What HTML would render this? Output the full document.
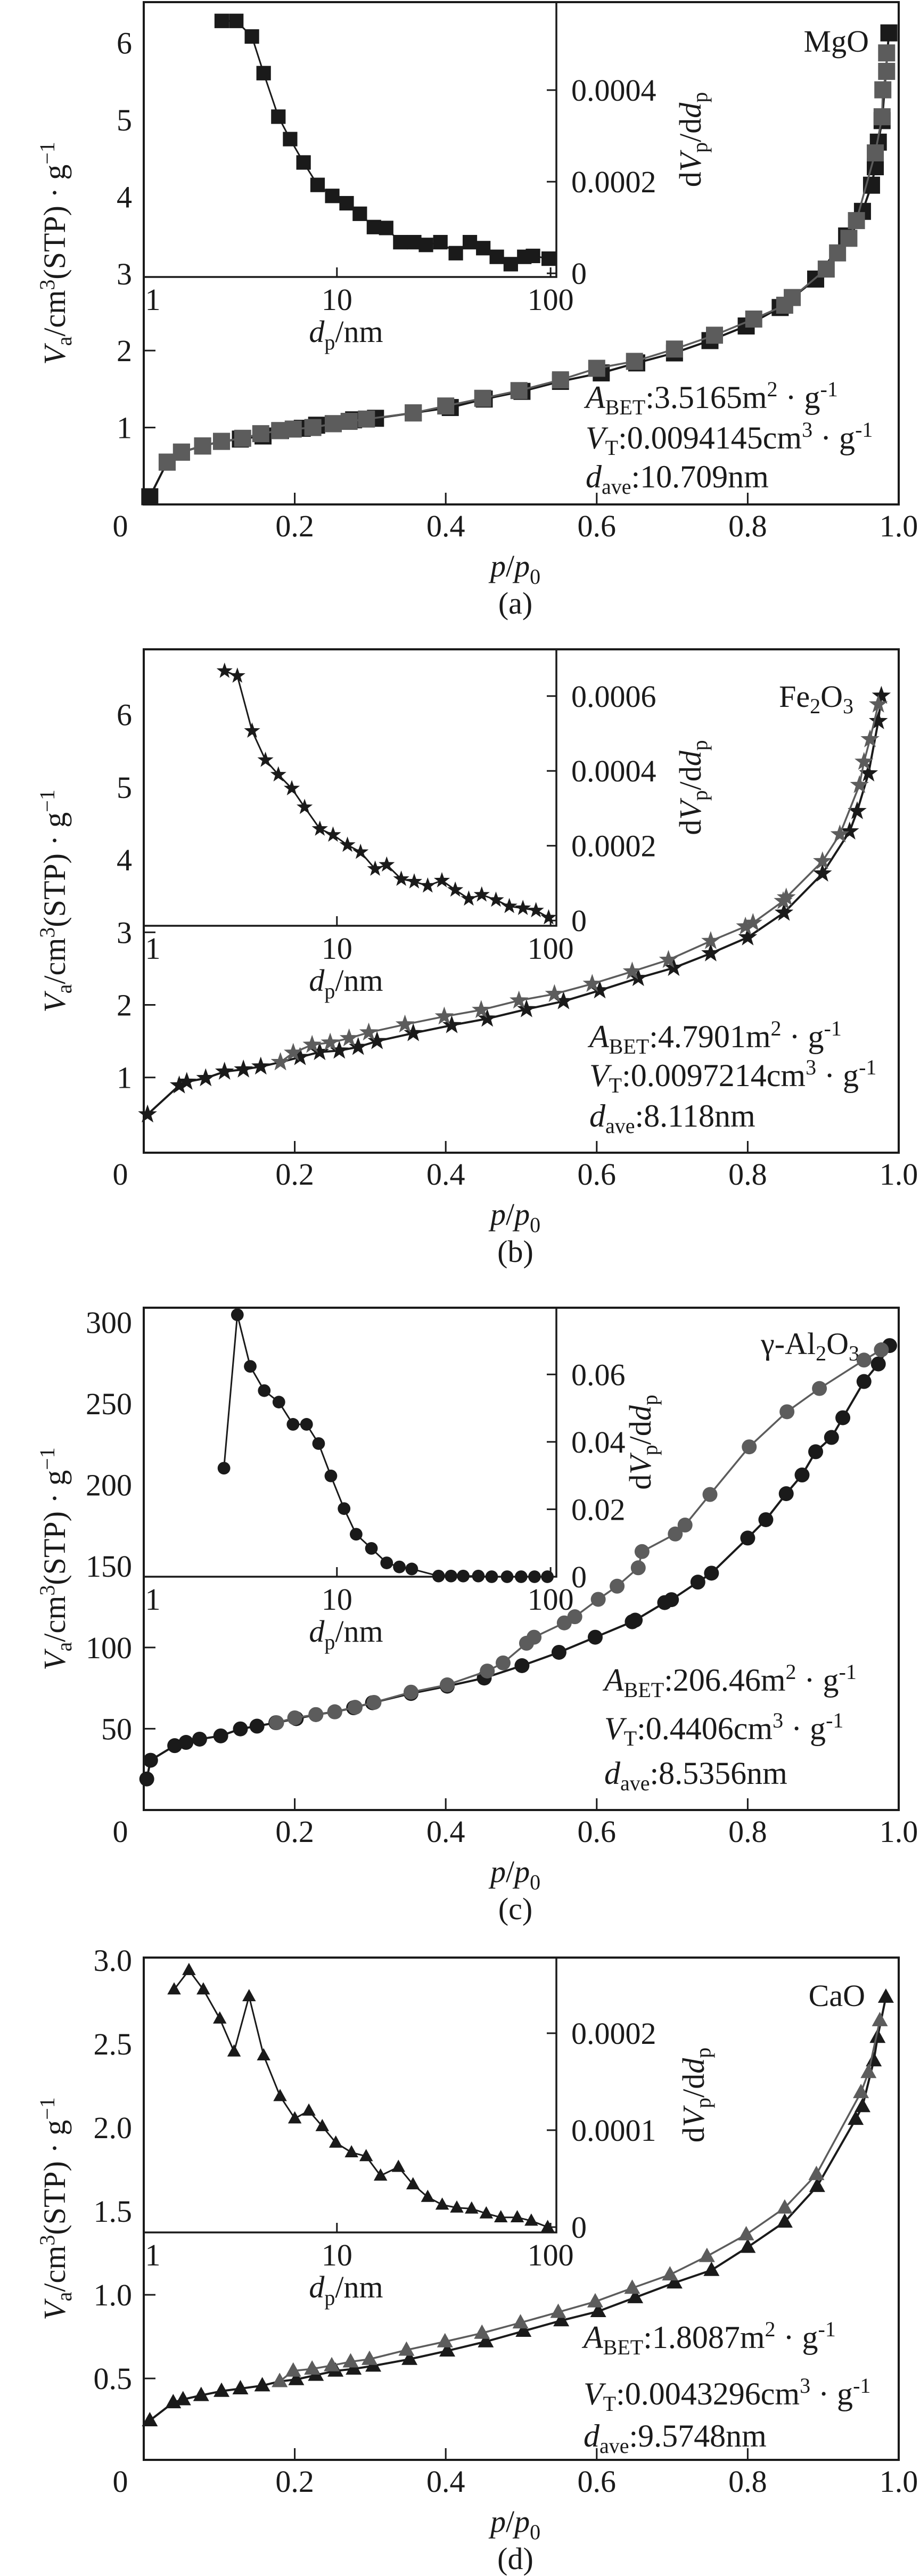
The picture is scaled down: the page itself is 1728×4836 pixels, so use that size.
<!DOCTYPE html>
<html><head><meta charset="utf-8"><style>
html,body{margin:0;padding:0;background:#fff;}
svg{display:block;}
text{font-family:"Liberation Serif",serif;fill:#1a1a1a;}
</style></head><body>
<svg id="chart" xmlns="http://www.w3.org/2000/svg" width="1728" height="4836" viewBox="0 0 1728 4836"></svg>
<script>
// ---- data: panel (a) MgO ----
const aAdsP=[0.008,0.031,0.05,0.078,0.103,0.128,0.158,0.181,0.21,0.229,0.251,0.278,0.307,0.357,0.406,0.451,0.501,0.552,0.606,0.653,0.703,0.75,0.798,0.843,0.89,0.931,0.952,0.964,0.969,0.973,0.978,0.987];
const aAdsV=[0.1,0.55,0.68,0.76,0.82,0.85,0.89,0.96,0.99,1.03,1.05,1.1,1.12,1.19,1.26,1.37,1.47,1.6,1.71,1.84,1.97,2.13,2.32,2.56,2.93,3.49,3.81,4.15,4.39,4.71,4.99,6.13];
const aDesP=[0.984,0.984,0.979,0.978,0.969,0.944,0.934,0.919,0.904,0.859,0.849,0.808,0.756,0.703,0.65,0.6,0.552,0.497,0.449,0.4,0.357,0.295,0.272,0.251,0.224,0.198,0.18,0.155,0.131,0.103,0.078,0.05,0.031];
const aDesV=[5.87,5.63,5.39,5.04,4.57,3.69,3.46,3.27,3.06,2.69,2.59,2.41,2.2,2.02,1.86,1.77,1.62,1.48,1.38,1.28,1.19,1.11,1.08,1.05,1.0,0.98,0.96,0.92,0.86,0.82,0.76,0.68,0.55];
const aPsdD=[2.89,3.38,4.0,4.54,5.32,6.04,6.98,8.12,9.51,11.1,12.8,14.9,17.0,19.8,23.0,26.1,30.5,36.0,41.9,48.4,56.0,65.1,75.3,82.7,98];
const aPsdV=[5.51e-4,5.51e-4,5.17e-4,4.37e-4,3.42e-4,2.93e-4,2.42e-4,1.93e-4,1.69e-4,1.53e-4,1.30e-4,1.01e-4,0.99e-4,0.68e-4,0.68e-4,0.62e-4,0.68e-4,0.44e-4,0.68e-4,0.55e-4,0.36e-4,0.20e-4,0.36e-4,0.38e-4,0.32e-4];
const aYTicks=[1,2,3,4,5,6];
const aYTickLabels=['1','2','3','4','5','6'];
const aInTicks=[0,2e-4,4e-4];
const aInTickLabels=['0','0.0002','0.0004'];
// ---- data: panel (b) Fe2O3 ----
const bAdsP=[0.005,0.047,0.057,0.082,0.107,0.132,0.155,0.181,0.207,0.233,0.259,0.284,0.309,0.357,0.408,0.455,0.507,0.556,0.604,0.655,0.702,0.751,0.8,0.848,0.899,0.935,0.945,0.96,0.973,0.977];
const bAdsV=[0.49,0.89,0.94,0.99,1.08,1.11,1.15,1.21,1.28,1.35,1.37,1.42,1.5,1.61,1.72,1.81,1.94,2.05,2.2,2.37,2.51,2.71,2.93,3.27,3.81,4.39,4.67,5.19,5.91,6.26];
const bDesP=[0.973,0.962,0.954,0.948,0.922,0.899,0.851,0.847,0.807,0.797,0.751,0.695,0.647,0.594,0.544,0.497,0.447,0.398,0.346,0.298,0.272,0.247,0.223,0.198,0.181];
const bDesV=[6.14,5.66,5.35,5.03,4.35,3.98,3.48,3.43,3.13,3.08,2.88,2.62,2.46,2.29,2.15,2.06,1.93,1.84,1.73,1.62,1.54,1.48,1.45,1.34,1.21];
const bPsdD=[2.98,3.42,4.01,4.63,5.32,6.15,7.06,8.32,9.59,11.2,12.9,15.1,17.1,20.0,23.0,26.6,31.0,35.8,41.4,47.6,55.5,64.1,74.2,85.4,97.9];
const bPsdV=[6.67e-4,6.54e-4,5.07e-4,4.29e-4,3.9e-4,3.53e-4,3.03e-4,2.45e-4,2.29e-4,2.02e-4,1.83e-4,1.38e-4,1.49e-4,1.11e-4,1.04e-4,0.93e-4,1.07e-4,0.82e-4,0.58e-4,0.69e-4,0.55e-4,0.38e-4,0.33e-4,0.27e-4,0.08e-4];
const bYTicks=[1,2,3,4,5,6];
const bYTickLabels=['1','2','3','4','5','6'];
const bInTicks=[0,2e-4,4e-4,6e-4];
const bInTickLabels=['0','0.0002','0.0004','0.0006'];
// ---- data: panel (c) gamma-Al2O3 ----
const cAdsP=[0.004,0.009,0.041,0.056,0.074,0.102,0.128,0.15,0.175,0.202,0.228,0.253,0.278,0.303,0.354,0.402,0.451,0.501,0.55,0.598,0.647,0.651,0.69,0.699,0.734,0.752,0.8,0.824,0.851,0.872,0.89,0.911,0.926,0.954,0.973,0.988];
const cAdsV=[19.1,30.6,39.6,41.6,43.6,45.6,49.9,51.6,53.7,56.2,58.7,60.4,62.9,66.0,71.7,76.2,81.2,88.8,97.0,106.3,115.8,116.8,127.6,129.4,140.2,145.7,167.3,178.6,194.6,206.1,220.4,229.2,241.3,263.6,274.4,285.7];
const cDesP=[0.977,0.954,0.895,0.852,0.802,0.75,0.717,0.704,0.66,0.655,0.627,0.602,0.571,0.557,0.517,0.507,0.476,0.455,0.402,0.354,0.305,0.28,0.253,0.228,0.2,0.176];
const cDesV=[283.1,276.8,259.3,245,223.4,194.1,175.3,169.8,159,149,137.7,129.6,118.9,115.1,106.3,102.6,90.5,85.5,77,72.5,66.2,63.2,60.4,58.7,56.7,53.7];
const cPsdD=[2.96,3.42,3.93,4.57,5.35,6.23,7.21,8.21,9.37,10.8,12.3,14.5,17.1,19.6,22.4,29.9,34.2,39.0,45.9,53.0,62.6,72.8,84.1,96.6];
const cPsdV=[0.0322,0.0777,0.0624,0.0552,0.0518,0.0452,0.0452,0.0395,0.0299,0.0202,0.0126,0.0084,0.0041,0.0029,0.0023,0.0002,0.0002,0.0002,0.0002,0,0,0,0,0];
const cYTicks=[50,100,150,200,250,300];
const cYTickLabels=['50','100','150','200','250','300'];
const cInTicks=[0,0.02,0.04,0.06];
const cInTickLabels=['0','0.02','0.04','0.06'];
// ---- data: panel (d) CaO ----
const dAdsP=[0.008,0.039,0.052,0.076,0.103,0.128,0.157,0.18,0.202,0.228,0.254,0.278,0.304,0.352,0.402,0.453,0.503,0.553,0.602,0.651,0.703,0.752,0.8,0.849,0.892,0.943,0.952,0.967,0.972,0.983];
const dAdsV=[0.248,0.356,0.374,0.399,0.424,0.439,0.457,0.482,0.494,0.52,0.545,0.557,0.575,0.615,0.665,0.72,0.783,0.846,0.901,0.984,1.072,1.147,1.285,1.436,1.649,2.05,2.126,2.4,2.54,2.78];
const dDesP=[0.975,0.96,0.95,0.891,0.849,0.798,0.746,0.697,0.647,0.598,0.549,0.499,0.448,0.399,0.348,0.299,0.274,0.249,0.223,0.198,0.18];
const dDesV=[2.64,2.33,2.21,1.72,1.52,1.36,1.23,1.12,1.04,0.959,0.896,0.833,0.771,0.72,0.67,0.615,0.6,0.577,0.557,0.545,0.482];
const dPsdD=[1.73,2.03,2.37,2.83,3.30,3.88,4.54,5.42,6.35,7.39,8.54,9.88,11.7,13.7,16.0,19.4,22.7,26.6,31.1,36.4,42.7,50.0,58.5,69.8,81.2,96.9];
const dPsdV=[2.45e-4,2.65e-4,2.45e-4,2.15e-4,1.81e-4,2.38e-4,1.77e-4,1.35e-4,1.12e-4,1.2e-4,1.04e-4,0.87e-4,0.77e-4,0.73e-4,0.53e-4,0.62e-4,0.44e-4,0.31e-4,0.23e-4,0.2e-4,0.19e-4,0.14e-4,0.1e-4,0.1e-4,0.065e-4,0];
const dYTicks=[0.5,1.0,1.5,2.0,2.5,3.0];
const dYTickLabels=['0.5','1.0','1.5','2.0','2.5','3.0'];
const dInTicks=[0,1e-4,2e-4];
const dInTickLabels=['0','0.0001','0.0002'];
const xTicks=[0,0.2,0.4,0.6,0.8,1.0];
const xTickLabels=['0','0.2','0.4','0.6','0.8','1.0'];
const inXTicks=[1,10,100];
const inXTickLabels=['1','10','100'];

const NS='http://www.w3.org/2000/svg';
const svg=document.getElementById('chart');
function mk(tag,attrs,parent){const e=document.createElementNS(NS,tag);for(const k in attrs)e.setAttribute(k,attrs[k]);(parent||svg).appendChild(e);return e;}

const L=270,R=1688,IR=1045,LOG0=0.096,LOG1=2.027;
const BLACK='#1a1a1a',GRAY='#5c5c5c';

function marker(g,type,x,y,col,s){
  let e;
  if(type==='square'){e=mk('rect',{x:x-s/2,y:y-s/2,width:s,height:s,fill:col},g);}
  else if(type==='circle'){e=mk('circle',{cx:x,cy:y,r:s/2,fill:col},g);}
  else if(type==='triangle'){const h=s*0.9;e=mk('polygon',{points:`${x},${y-h*0.6} ${x-s/2},${y+h*0.4} ${x+s/2},${y+h*0.4}`,fill:col},g);}
  else {const pts=[];for(let i=0;i<10;i++){const r=i%2?s*0.22:s*0.55;const a=-Math.PI/2+i*Math.PI/5;pts.push((x+r*Math.cos(a)).toFixed(1)+','+(y+r*Math.sin(a)).toFixed(1));}e=mk('polygon',{points:pts.join(' '),fill:col},g);}
  return e;
}

function panel(c){
  const g=mk('g',{});
  
  
  const X=p=>L+p*(R-L);
  const Y=v=>c.bot-(v-c.yMin)/(c.yMax-c.yMin)*(c.bot-c.top);
  const IX=d=>L+(Math.log10(d)-LOG0)/(LOG1-LOG0)*(IR-L);
  const IY=v=>c.inBot-(v-c.inMin)/(c.inMax-c.inMin)*(c.inBot-c.top);
  // frame
  const fr=mk('rect',{x:L,y:c.top,width:R-L,height:c.bot-c.top,fill:'none',stroke:BLACK,'stroke-width':4},g);
  
  
  // x ticks
  xTicks.forEach((t,i)=>{
    if(t>0&&t<1){const tk=mk('line',{x1:X(t),x2:X(t),y1:c.bot,y2:c.bot-22,stroke:BLACK,'stroke-width':3},g);
    
    }
    const tx=mk('text',{x:i===0?226:X(t),y:c.bot+60,'font-size':58,'text-anchor':'middle'},g);
    tx.textContent=xTickLabels[i];
    
    
  });
  // y ticks
  c.yTicks.forEach((t,i)=>{
    const tk=mk('line',{x1:L,x2:L+22,y1:Y(t),y2:Y(t),stroke:BLACK,'stroke-width':3},g);
    
    
    const tx=mk('text',{x:248,y:Y(t)+20,'font-size':58,'text-anchor':'end'},g);
    tx.textContent=c.yLabels[i];
    
    
  });
  // axis titles
  const xt=mk('text',{x:968,y:c.bot+135,'font-size':58,'text-anchor':'middle'},g);
  xt.innerHTML='<tspan font-style="italic">p</tspan>/<tspan font-style="italic">p</tspan><tspan font-size="40" dy="14">0</tspan>';
  
  
  const cap=mk('text',{x:968,y:c.bot+205,'font-size':58,'text-anchor':'middle'},g);
  cap.textContent='('+c.key+')';
  
  
  const yc=(c.top+c.bot)/2;
  const yt=mk('text',{x:0,y:0,'font-size':58,'text-anchor':'middle',transform:`translate(122,${yc}) rotate(-90)`},g);
  yt.innerHTML='<tspan font-style="italic">V</tspan><tspan font-size="40" dy="12">a</tspan><tspan dy="-12">/cm</tspan><tspan font-size="40" dy="-20">3</tspan><tspan dy="20">(STP) · g</tspan><tspan font-size="40" dy="-20">−1</tspan>';
  
  
  // sample name
  const sn=mk('text',{x:c.nameX,y:c.nameY+20,'font-size':58,'text-anchor':'end'},g);
  sn.innerHTML=c.nameHTML;
  
  
  // annotation
  c.ann.forEach((h,i)=>{
    const a=mk('text',{x:c.annX,y:c.annY[i]+20,'font-size':60},g);
    a.innerHTML=h;
    
    
  });
  // series
  function series(P,V,col,w,name){
    const pts=P.map((p,i)=>X(p).toFixed(1)+','+Y(V[i]).toFixed(1)).join(' ');
    const ln=mk('polyline',{points:pts,fill:'none',stroke:col,'stroke-width':w,'stroke-linejoin':'round'},g);
    
    
    const mg=mk('g',{},g);
    
    
    P.forEach((p,i)=>{const m=marker(mg,c.marker,X(p),Y(V[i]),col,c.ms);
      
      });
  }
  series(c.ads[0],c.ads[1],BLACK,4,'adsorption');
  series(c.des[0],c.des[1],GRAY,3.5,'desorption');
  // inset
  const ig=mk('g',{},g);
  
  
  const bg=mk('rect',{x:L+2,y:c.top+2,width:IR-L-2,height:c.inBot-c.top-2,fill:'#fff'},ig);
  
  
  const ia=mk('polyline',{points:`${L},${c.inBot} ${IR},${c.inBot} ${IR},${c.top}`,fill:'none',stroke:BLACK,'stroke-width':3.5},ig);
  
  
  inXTicks.forEach((t,i)=>{
    const x=IX(t);
    if(x>L+5&&x<IR-5){const tk=mk('line',{x1:x,x2:x,y1:c.inBot,y2:c.inBot-18,stroke:BLACK,'stroke-width':3},ig);
    
    }
    const tx=mk('text',{x:Math.max(x,287),y:c.inBot+62,'font-size':58,'text-anchor':'middle'},ig);
    tx.textContent=inXTickLabels[i];
    
    
  });
  c.inTicks.forEach((t,i)=>{
    const y=IY(t);
    const tk=mk('line',{x1:IR,x2:IR-18,y1:y,y2:y,stroke:BLACK,'stroke-width':3},ig);
    
    
    const tx=mk('text',{x:IR+28,y:y+20,'font-size':58},ig);
    tx.textContent=c.inLabels[i];
    
    
  });
  const dx=mk('text',{x:650,y:c.inBot+122,'font-size':58,'text-anchor':'middle'},ig);
  dx.innerHTML='<tspan font-style="italic">d</tspan><tspan font-size="40" dy="14">p</tspan><tspan dy="-14">/nm</tspan>';
  
  
  const dy=mk('text',{x:0,y:0,'font-size':58,'text-anchor':'middle',transform:`translate(${c.inTitleX},${(c.top+c.inBot)/2}) rotate(-90)`},ig);
  dy.innerHTML='d<tspan font-style="italic">V</tspan><tspan font-size="40" dy="12">p</tspan><tspan dy="-12">/d</tspan><tspan font-style="italic">d</tspan><tspan font-size="40" dy="12">p</tspan>';
  
  
  const ipts=c.psd[0].map((d,i)=>IX(d).toFixed(1)+','+IY(c.psd[1][i]).toFixed(1)).join(' ');
  const il=mk('polyline',{points:ipts,fill:'none',stroke:BLACK,'stroke-width':3,'stroke-linejoin':'round'},ig);
  
  
  c.psd[0].forEach((d,i)=>{const m=marker(ig,c.marker,IX(d),IY(c.psd[1][i]),BLACK,c.ms*0.85);
    
    });
}

function ann(a,b,cc){
  return ['<tspan font-style="italic">A</tspan><tspan font-size="40" dy="12">BET</tspan><tspan dy="-12">:'+a+'m</tspan><tspan font-size="40" dy="-22">2</tspan><tspan dy="22"> · g</tspan><tspan font-size="40" dy="-22">-1</tspan>',
   '<tspan font-style="italic">V</tspan><tspan font-size="40" dy="12">T</tspan><tspan dy="-12">:'+b+'cm</tspan><tspan font-size="40" dy="-22">3</tspan><tspan dy="22"> · g</tspan><tspan font-size="40" dy="-22">-1</tspan>',
   '<tspan font-style="italic">d</tspan><tspan font-size="40" dy="12">ave</tspan><tspan dy="-12">:'+cc+'nm</tspan>'];
}

panel({key:'a',top:4,bot:947,yMin:0,yMax:6.53,yTicks:aYTicks,yLabels:aYTickLabels,inBot:520,inMin:-0.08e-4,inMax:5.92e-4,inTicks:aInTicks,inLabels:aInTickLabels,inTitleX:1316,marker:'square',ms:32,
  ads:[aAdsP,aAdsV],des:[aDesP,aDesV],psd:[aPsdD,aPsdV],nameX:1632,nameY:77,nameHTML:'MgO',annX:1100,annY:[746,822,895],ann:ann('3.5165','0.0094145','10.709')});
panel({key:'b',top:1219,bot:2164,yMin:-0.037,yMax:6.9,yTicks:bYTicks,yLabels:bYTickLabels,inBot:1738,inMin:-0.14e-4,inMax:7.25e-4,inTicks:bInTicks,inLabels:bInTickLabels,inTitleX:1316,marker:'star',ms:34,
  ads:[bAdsP,bAdsV],des:[bDesP,bDesV],psd:[bPsdD,bPsdV],nameX:1603,nameY:1307,nameHTML:'Fe<tspan font-size="40" dy="12">2</tspan><tspan dy="-12">O</tspan><tspan font-size="40" dy="12">3</tspan>',annX:1107,annY:[1946,2019,2095],ann:ann('4.7901','0.0097214','8.118')});
panel({key:'c',top:2455,bot:3398,yMin:0,yMax:309,yTicks:cYTicks,yLabels:cYTickLabels,inBot:2960,inMin:0,inMax:0.0798,inTicks:cInTicks,inLabels:cInTickLabels,inTitleX:1222,marker:'circle',ms:28,
  ads:[cAdsP,cAdsV],des:[cDesP,cDesV],psd:[cPsdD,cPsdV],nameX:1614,nameY:2522,nameHTML:'γ-Al<tspan font-size="40" dy="12">2</tspan><tspan dy="-12">O</tspan><tspan font-size="40" dy="12">3</tspan>',annX:1135,annY:[3154,3245,3329],ann:ann('206.46','0.4406','8.5356')});
panel({key:'d',top:3675,bot:4618,yMin:0.013,yMax:3.016,yTicks:dYTicks,yLabels:dYTickLabels,inBot:4191,inMin:-0.055e-4,inMax:2.78e-4,inTicks:dInTicks,inLabels:dInTickLabels,inTitleX:1322,marker:'triangle',ms:30,
  ads:[dAdsP,dAdsV],des:[dDesP,dDesV],psd:[dPsdD,dPsdV],nameX:1625,nameY:3746,nameHTML:'CaO',annX:1096,annY:[4388,4494,4573],ann:ann('1.8087','0.0043296','9.5748')});
</script>
</body></html>
